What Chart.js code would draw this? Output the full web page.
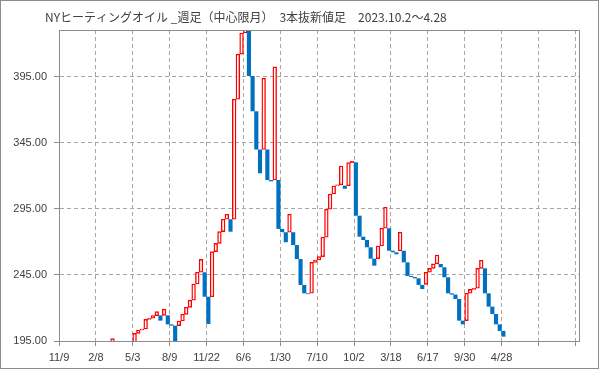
<!DOCTYPE html>
<html>
<head>
<meta charset="utf-8">
<script src="https://cdn.jsdelivr.net/npm/chart.js@4.4.1/dist/chart.umd.min.js"></script>
<style>
  html, body { margin: 0; padding: 0; background: #fff; }
  #wrap { width: 599px; height: 369px; }
</style>
</head>
<body>
<div id="wrap"><canvas id="chart" width="599" height="369"></canvas></div>
<script>
// ============================
// Data
// ============================

const chartTitle = 'NYヒーティングオイル _週足（中心限月）　3本抜新値足　2023.10.2～4.28';

// one date label every 10 slots
const dateLabels = ['11/9', '2/8', '5/3', '8/9', '11/22', '6/6', '1/30', '7/10', '10/2', '3/18', '6/17', '9/30', '4/28'];
const slotCount = 141;
const labelStep = 10;

const yTicks = [195, 245, 295, 345, 395];

// bricks from slot 14 on : U = up (new high), D = down, . = nothing visible
const firstSlot = 14;
const brickDir =
  'U.....U' + 'UUUUUU' + 'D' + 'U' + 'DDD' + 'UUUUUUU' + 'DD' + 'UUUUU' + 'D' + 'UUUU' +
  'DDDD' + 'U' + 'DD' + 'U' + 'DDD' + 'U' + 'DDDDD' + 'UUUUUUUUU' + 'D' + 'UU' +
  'DDDDDD' + 'UUU' + 'DDD' + 'U' + 'DDDDDD' + 'UUUU' + 'DDDDDDD' + 'UUUUU' + 'DDDDDD';

const brickLow = [
  192, null, null, null, null, null, 190, 200.8, 203.3, 204.1,
  211.4, 212.2, 214.2, 210.4, 214.4, 207.6, 206.6, 190, 206.6, 210.1,
  215.2, 220.5, 225.8, 238.1, 247.0, 228.5, 207.9, 228.5, 262.6, 268.9,
  277.7, 287.1, 277.7, 287.1, 377.9, 412.0, 428.0, 395.5, 368.8, 339.9,
  321.9, 339.9, 316.8, 315.8, 316.8, 279.8, 277.3, 269.7, 277.3, 267.6,
  257.0, 237.4, 231.1, 230.5, 231.1, 254.5, 256.3, 258.8, 273.5, 294.7,
  306.2, 312.3, 313.1, 310.2, 312.5, 329.9, 289.8, 273.9, 271.4, 265.9,
  257.3, 252.0, 257.3, 266.9, 280.3, 263.3, 262.1, 260.6, 263.3, 254.5,
  244.2, 243.4, 242.4, 237.4, 234.3, 237.9, 247.0, 250.0, 253.3, 250.8,
  243.2, 231.1, 230.1, 226.8, 210.4, 207.6, 210.4, 231.1, 234.1, 234.9,
  250.0, 231.1, 221.0, 215.4, 207.6, 202.6, 198.3
];

const brickHigh = [
  196.8, null, null, null, null, null, 200.8, 203.3, 204.1, 211.4,
  212.2, 214.2, 217.2, 214.4, 219.0, 214.4, 207.6, 206.6, 210.1, 215.2,
  220.5, 225.8, 238.1, 247.0, 256.8, 247.0, 228.5, 262.6, 268.9, 277.7,
  287.1, 290.9, 287.1, 377.9, 412.0, 428.0, 433.0, 430.0, 395.5, 368.8,
  339.9, 393.8, 339.9, 316.8, 402.4, 316.8, 279.8, 277.3, 290.9, 277.3,
  267.6, 257.0, 237.4, 231.1, 254.5, 256.3, 258.8, 273.5, 294.7, 306.2,
  312.3, 313.1, 327.4, 312.5, 329.9, 331.0, 330.2, 289.8, 273.9, 271.4,
  265.9, 257.3, 266.9, 280.3, 296.2, 280.3, 263.3, 262.1, 277.3, 263.3,
  254.5, 244.2, 243.4, 242.4, 237.4, 247.0, 250.0, 253.3, 260.1, 253.3,
  250.8, 243.2, 231.1, 230.1, 226.8, 210.4, 231.1, 234.1, 234.9, 250.0,
  256.1, 250.0, 231.1, 221.0, 215.4, 207.6, 202.6
];

// ============================
// Build slots
// ============================

const labels = [];
const upData = [];
const downData = [];

for (let i = 0; i < slotCount; i++) {
  labels.push(i % labelStep === 0 ? (dateLabels[i / labelStep] || '') : '');
  const k = i - firstSlot;
  const dir = brickDir[k];
  const pair = (k >= 0 && k < brickLow.length && brickLow[k] !== null) ? [brickLow[k], brickHigh[k]] : null;
  upData.push(dir === 'U' ? pair : null);
  downData.push(dir === 'D' ? pair : null);
}

const axisGray = '#8c8c8c';
const gridGray = '#a6a6a6';
const textColor = '#404040';
const clear = 'rgba(0,0,0,0)';

// frame + title
const framePlugin = {
  id: 'frame',
  afterDraw(chart) {
    const { ctx, chartArea: a } = chart;
    ctx.save();
    ctx.strokeStyle = axisGray;
    ctx.lineWidth = 1;
    ctx.beginPath();
    ctx.moveTo(Math.round(a.left) + 0.5, Math.round(a.top) + 0.5);
    ctx.lineTo(Math.round(a.right) + 0.5, Math.round(a.top) + 0.5);
    ctx.lineTo(Math.round(a.right) + 0.5, Math.round(a.bottom) + 0.5);
    ctx.stroke();
    ctx.strokeRect(0.5, 0.5, chart.width - 1, chart.height - 1);
    ctx.fillStyle = textColor;
    ctx.font = '12px "Noto Sans CJK JP"';
    ctx.textBaseline = 'middle';
    ctx.textAlign = 'left';
    ctx.fillText(chartTitle, 45, 17);
    ctx.restore();
  }
};

// ============================
// Chart
// ============================

new Chart(document.getElementById('chart'), {
  type: 'bar',
  data: {
    labels: labels,
    datasets: [
      {
        data: downData,
        backgroundColor: '#0070c0',
        borderWidth: 0,
        borderSkipped: false,
        grouped: false,
        barPercentage: 1.12,
        categoryPercentage: 1
      },
      {
        data: upData,
        backgroundColor: '#ffffff',
        borderColor: '#ff0000',
        borderWidth: 1.4,
        borderSkipped: false,
        grouped: false,
        barPercentage: 1,
        categoryPercentage: 1
      }
    ]
  },
  options: {
    responsive: false,
    animation: false,
    devicePixelRatio: 1,
    layout: { padding: { top: 30, right: 20, bottom: 0, left: 0 } },
    plugins: {
      legend: { display: false },
      tooltip: { enabled: false }
    },
    scales: {
      x: {
        offset: true,
        afterFit: s => { s.height = 28; },
        grid: {
          offset: true,
          color: c => (c.index % labelStep === 0 && c.index > 0) ? gridGray : clear,
          tickColor: c => (c.index % labelStep === 0) ? axisGray : clear,
          tickLength: 5
        },
        border: { color: axisGray, width: 1, dash: [4, 3] },
        ticks: {
          autoSkip: false,
          maxRotation: 0,
          minRotation: 0,
          padding: 5,
          labelOffset: -1.85,
          color: textColor,
          font: { family: 'Liberation Sans', size: 11 }
        }
      },
      y: {
        min: 195,
        max: 430.3,
        afterFit: s => { s.width = 59; },
        afterBuildTicks: s => { s.ticks = yTicks.map(v => ({ value: v })); },
        grid: {
          color: c => (c.tick && c.tick.value === 195) ? clear : gridGray,
          tickColor: axisGray,
          tickLength: 5
        },
        border: { color: axisGray, width: 1, dash: [4, 3] },
        ticks: {
          padding: 7,
          color: textColor,
          font: { family: 'Liberation Sans', size: 11 },
          callback: v => Number(v).toFixed(2)
        }
      }
    }
  },
  plugins: [framePlugin]
});
</script>
</body>
</html>
